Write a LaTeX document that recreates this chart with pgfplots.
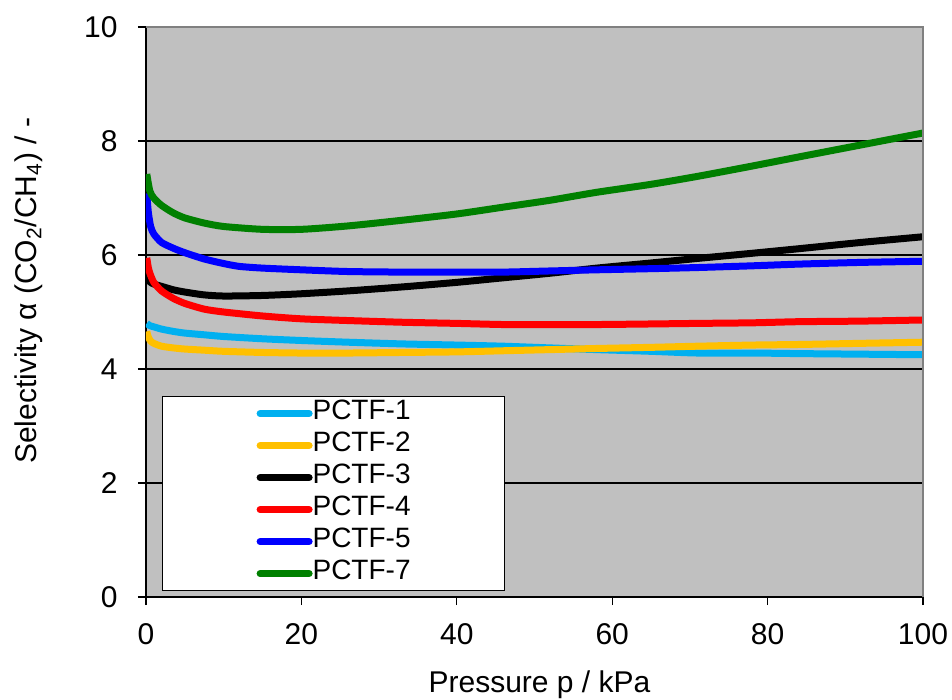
\documentclass[border=0pt]{standalone}
\usepackage{fontspec}
\setmainfont{Liberation Sans}
\usepackage{pgfplots}
\pgfplotsset{compat=1.18}

\definecolor{plotbg}{RGB}{192,192,192}
\definecolor{frame}{RGB}{128,128,128}
\definecolor{pctfA}{RGB}{0,176,240}
\definecolor{pctfB}{RGB}{255,192,0}
\definecolor{pctfG}{RGB}{0,128,0}

\begin{document}
\begin{tikzpicture}[font=\fontsize{15}{18}\selectfont]
\begin{axis}[
    scale only axis,
    width=388.5pt, height=285pt,
    xmin=0, xmax=100, ymin=0, ymax=10,
    xtick={0,20,...,100}, ytick={0,2,...,10},
    axis lines*=left,
    axis line style={-, black, line width=0.8pt},
    tick align=outside,
    major tick length=4pt,
    tick style={black, line width=0.6pt},
    ymajorgrids,
    grid style={black, line width=0.6pt},
    axis background/.style={fill=plotbg},
    /pgf/number format/assume math mode=true,
    xticklabel style={inner sep=0pt, yshift=-9pt},
    yticklabel style={inner sep=0pt, xshift=-10pt},
    xlabel={Pressure p / kPa},
    ylabel={Selectivity α (CO\textsubscript{2}/CH\textsubscript{4}) / -},
    every axis x label/.style={at={(axis description cs:0.5064,-0.1544)}, anchor=center, inner sep=0pt},
    every axis y label/.style={at={(axis description cs:-0.1506,0.537)}, anchor=center, rotate=90, inner sep=0pt},
    legend style={
        at={(0.0206,0.3526)}, anchor=north west,
        draw=black, fill=white, line width=0.6pt,
        inner xsep=47pt, inner ysep=0.5pt,
        font=\fontsize{14}{16}\selectfont,
        cells={anchor=west},
        nodes={inner sep=0pt, text height=11pt, text depth=5pt},
        /tikz/every even column/.append style={column sep=3.5pt},
    },
    legend image code/.code={\draw[#1, line width=3.5pt, line cap=round] (0pt,0pt) -- (24.5pt,0pt);},
    every axis plot/.append style={line width=3.5pt, line join=round, smooth, tension=0.4},
]
\addplot[pctfA] coordinates {
(0.1,4.80) (0.5,4.76) (1,4.74) (2,4.70) (3.5,4.66) (5,4.63) (7.5,4.60) (10,4.57)
(15,4.53) (20,4.50) (26,4.47) (33,4.44) (40,4.42) (46,4.40) (52,4.37) (58,4.34)
(65,4.31) (71,4.28) (78,4.28) (84,4.27) (92,4.26) (100,4.25)};
\addlegendentry{PCTF-1}
\addplot[pctfB] coordinates {
(0.1,4.66) (0.3,4.56) (0.6,4.49) (1,4.45) (2,4.40) (3.5,4.37) (5,4.35) (7.5,4.33) (10,4.31)
(15,4.29) (20,4.28) (26,4.28) (33,4.29) (40,4.30) (46,4.32) (52,4.34) (58,4.36)
(65,4.38) (71,4.40) (78,4.42) (84,4.43) (92,4.45) (100,4.47)};
\addlegendentry{PCTF-2}
\addplot[black] coordinates {
(0.1,5.62) (0.5,5.53) (1,5.49) (2,5.45) (3.5,5.39) (5,5.35) (7.5,5.30) (10,5.28)
(15,5.29) (20,5.32) (26,5.37) (33,5.44) (40,5.52) (46,5.60) (52,5.68) (58,5.77)
(65,5.86) (71,5.94) (78,6.03) (84,6.11) (92,6.22) (100,6.32)};
\addlegendentry{PCTF-3}
\addplot[red] coordinates {
(0.1,5.95) (0.3,5.78) (0.5,5.68) (1,5.52) (2,5.37) (3.5,5.24) (5,5.15) (7.5,5.05) (10,5.00)
(15,4.93) (20,4.88) (26,4.85) (33,4.82) (40,4.80) (46,4.78) (52,4.78) (58,4.78)
(65,4.79) (71,4.80) (78,4.81) (84,4.83) (92,4.84) (100,4.86)};
\addlegendentry{PCTF-4}
\addplot[blue] coordinates {
(0.1,7.08) (0.3,6.75) (0.6,6.50) (1,6.37) (2,6.22) (3.5,6.12) (5,6.04) (7.5,5.93) (10,5.85)
(12,5.80) (15,5.77) (20,5.74) (26,5.71) (33,5.70) (40,5.70) (46,5.70) (52,5.72) (58,5.74)
(65,5.76) (71,5.78) (78,5.81) (84,5.84) (92,5.87) (100,5.89)};
\addlegendentry{PCTF-5}
\addplot[pctfG] coordinates {
(0.1,7.42) (0.5,7.12) (1,7.00) (2,6.87) (3.5,6.74) (5,6.65) (7.5,6.56) (10,6.50)
(15,6.45) (20,6.45) (26,6.51) (33,6.61) (40,6.72) (46,6.84) (52,6.96) (58,7.10)
(65,7.24) (71,7.38) (78,7.56) (84,7.72) (92,7.93) (100,8.14)};
\addlegendentry{PCTF-7}
\end{axis}
\draw[frame, line width=1pt] (current axis.north west) -- (current axis.north east) -- (current axis.south east);
\pgfresetboundingbox
\path[use as bounding box] ([xshift=-73pt,yshift=-51.5pt]current axis.south west)
    rectangle ([xshift=14.5pt,yshift=13.5pt]current axis.north east);
\end{tikzpicture}
\end{document}
